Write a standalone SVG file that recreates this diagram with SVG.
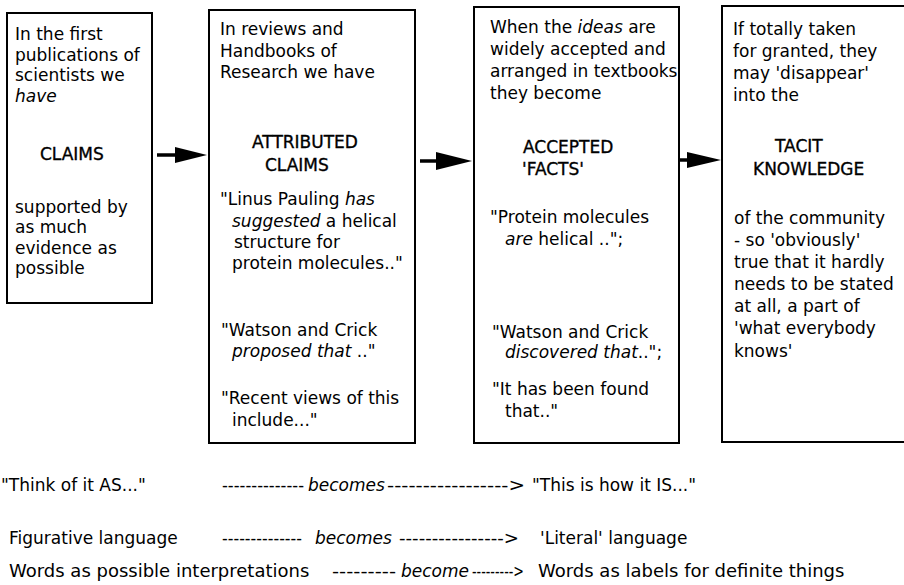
<svg xmlns="http://www.w3.org/2000/svg" width="904" height="585" viewBox="0 0 904 585">
<style>
text{font-family:"DejaVu Sans","Liberation Sans",sans-serif;font-size:17px;fill:#000}
.i{font-style:italic}
.h{stroke:#000;stroke-width:0.35}
.r3{font-size:18px}
.box{fill:#fff;stroke:#000;stroke-width:2}
.shaft{stroke:#000;stroke-width:3.5;fill:none}
.head{fill:#000}
</style>
<rect width="904" height="585" fill="#fff"/>
<g id="connectors">
<line class="shaft" x1="157" y1="155" x2="177" y2="155"/>
<polygon class="head" points="175,147 207,155 175,163"/>
<line class="shaft" x1="420" y1="161" x2="438" y2="161"/>
<polygon class="head" points="436,152 472,161 436,170"/>
<line class="shaft" x1="679" y1="160" x2="690" y2="160"/>
<polygon class="head" points="687,152 721,160 687,168"/>
</g>
<g id="claims">
<rect class="box" x="7" y="13" width="145" height="290"/>
<text x="15" y="40">In the first</text>
<text x="15" y="61">publications of</text>
<text x="15" y="81">scientists we</text>
<text x="15" y="102" class="i">have</text>
<text x="40" y="160" class="h">CLAIMS</text>
<text x="15" y="213">supported by</text>
<text x="15" y="233">as much</text>
<text x="15" y="254">evidence as</text>
<text x="15" y="274">possible</text>
</g>
<g id="attributed">
<rect class="box" x="209" y="10" width="206" height="433"/>
<text x="220" y="35">In reviews and</text>
<text x="220" y="57">Handbooks of</text>
<text x="220" y="78">Research we have</text>
<text x="252" y="148" class="h">ATTRIBUTED</text>
<text x="265" y="171" class="h">CLAIMS</text>
<text x="220" y="205">"Linus Pauling <tspan class="i">has</tspan></text>
<text x="232" y="227"><tspan class="i">suggested</tspan> a helical</text>
<text x="234" y="248">structure for</text>
<text x="232" y="269">protein molecules.."</text>
<text x="221" y="336">"Watson and Crick</text>
<text x="232" y="357"><tspan class="i">proposed that</tspan> .."</text>
<text x="221" y="404">"Recent views of this</text>
<text x="232" y="426">include..."</text>
</g>
<g id="facts">
<rect class="box" x="474" y="7" width="205" height="436"/>
<text x="490" y="33">When the <tspan class="i">ideas</tspan> are</text>
<text x="490" y="55">widely accepted and</text>
<text x="490" y="77">arranged in textbooks</text>
<text x="490" y="99">they become</text>
<text x="523" y="153" class="h">ACCEPTED</text>
<text x="522" y="175" class="h">'FACTS'</text>
<text x="490" y="223">"Protein molecules</text>
<text x="505" y="245"><tspan class="i">are</tspan> helical ..";</text>
<text x="492" y="338">"Watson and Crick</text>
<text x="505" y="358"><tspan class="i">discovered that</tspan>..";</text>
<text x="492" y="395">"It has been found</text>
<text x="505" y="417">that.."</text>
</g>
<g id="tacit">
<rect class="box" x="722" y="6" width="190" height="436"/>
<text x="733" y="35">If totally taken</text>
<text x="733" y="57">for granted, they</text>
<text x="733" y="79">may 'disappear'</text>
<text x="733" y="101">into the</text>
<text x="775" y="152" class="h">TACIT</text>
<text x="753" y="175" class="h">KNOWLEDGE</text>
<text x="734" y="224">of the community</text>
<text x="734" y="246">- so 'obviously'</text>
<text x="734" y="268">true that it hardly</text>
<text x="734" y="290">needs to be stated</text>
<text x="734" y="312">at all, a part of</text>
<text x="734" y="334">'what everybody</text>
<text x="734" y="357">knows'</text>
</g>
<g id="row1">
<text x="1" y="491">"Think of it AS..."</text>
<text x="222" y="491" textLength="82" lengthAdjust="spacingAndGlyphs">--------------</text>
<text x="308" y="491" class="i">becomes</text>
<text x="387" y="491" textLength="138" lengthAdjust="spacingAndGlyphs">-----------------&gt;</text>
<text x="532" y="491">"This is how it IS..."</text>
</g>
<g id="row2">
<text x="9" y="544">Figurative language</text>
<text x="222" y="544" textLength="80" lengthAdjust="spacingAndGlyphs">--------------</text>
<text x="315" y="544" class="i">becomes</text>
<text x="399" y="544" textLength="120" lengthAdjust="spacingAndGlyphs">----------------&gt;</text>
<text x="540" y="544">'Literal' language</text>
</g>
<g id="row3">
<text x="9" y="577" class="r3">Words as possible interpretations</text>
<text x="332" y="577" textLength="64" lengthAdjust="spacingAndGlyphs">---------</text>
<text x="401" y="577" class="i">become</text>
<text x="472" y="577" textLength="52" lengthAdjust="spacingAndGlyphs">---------&gt;</text>
<text x="538" y="577" class="r3">Words as labels for definite things</text>
</g>
</svg>
